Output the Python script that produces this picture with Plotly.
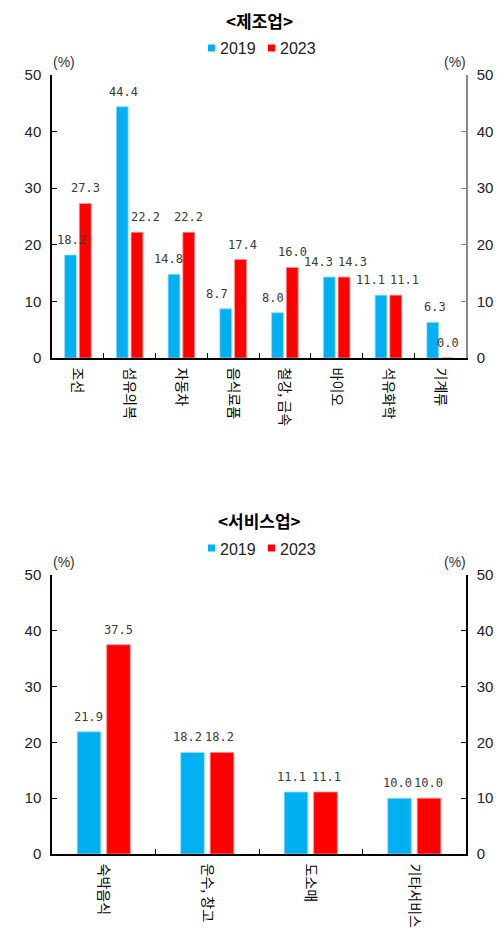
import plotly.graph_objects as go

# Manufacturing sector
mfg_categories = ["조선", "섬유의복", "자동차", "음식료품", "철강, 금속", "바이오", "석유화학", "기계류"]
mfg_2019 = [18.2, 44.4, 14.8, 8.7, 8.0, 14.3, 11.1, 6.3]
mfg_2023 = [27.3, 22.2, 22.2, 17.4, 16.0, 14.3, 11.1, 0.0]

# Service sector
svc_categories = ["숙박음식", "운수, 창고", "도소매", "기타서비스"]
svc_2019 = [21.9, 18.2, 11.1, 10.0]
svc_2023 = [37.5, 18.2, 11.1, 10.0]

series_names = ["2019", "2023"]
y_ticks = [0, 10, 20, 30, 40, 50]

# horizontal nudges (px) that keep neighbouring value labels apart
mfg_nudge = [[1, 1, -6, -9, -5, -11, -11, 2], [0, 8, 0, 2, 0, 8, 9, 0]]
svc_nudge = [[-1, -5, -5, -2], [0, -2, 1, 0]]

C2019 = "#00B0F0"
C2023 = "#FF0000"
COLORS = [C2019, C2023]
KR = "Noto Sans CJK KR"
NUM = "Liberation Sans"
LBL = "DejaVu Sans Mono"

W, H = 504, 933
BARGAP = 0.43
BARGROUPGAP = 0.2


def py(px):
    return 1 - px / H


def px_x(px):
    return px / W


X0, X1 = 52, 466
xdom = [px_x(X0), px_x(X1)]
top_dom = [py(358), py(75)]
bot_dom = [py(854), py(575)]

fig = go.Figure()
annotations = []
shapes = []

groups = [
    ("x", "y", mfg_categories, mfg_2019, mfg_2023, mfg_nudge),
    ("x2", "y3", svc_categories, svc_2019, svc_2023, svc_nudge),
]
for xa, ya, cats, v19, v23, nudges in groups:
    # half of one bar slot in pixels: where each series sits within its category
    slot_half = (X1 - X0) / len(cats) * (1 - BARGAP) / 4
    for k, (name, vals, edge) in enumerate([
        (series_names[0], v19, "rgba(150,220,248,1)"),
        (series_names[1], v23, "rgba(255,140,140,1)"),
    ]):
        fig.add_trace(go.Bar(
            x=cats, y=vals, name=name, xaxis=xa, yaxis=ya, showlegend=False,
            marker=dict(color=COLORS[k], line=dict(color=edge, width=0.8)),
            hovertemplate="%{x}<br>" + name + ": %{y:.1f}%<extra></extra>",
        ))
        # value labels sit above each bar, on top of all bars
        shift = -slot_half if k == 0 else slot_half
        for c, v, n in zip(cats, vals, nudges[k]):
            annotations.append(dict(
                x=c, y=v, xref=xa, yref=ya, text=f"{v:.1f}",
                showarrow=False, xanchor="center", yanchor="bottom",
                xshift=shift + n, yshift=6,
                font=dict(family=LBL, size=12, color="#3a3a3a"),
            ))

# invisible markers to activate the right-hand axes
fig.add_trace(go.Scatter(x=[mfg_categories[0]], y=[0], xaxis="x", yaxis="y2",
                         mode="markers", marker=dict(opacity=0), showlegend=False,
                         hoverinfo="skip"))
fig.add_trace(go.Scatter(x=[svc_categories[0]], y=[0], xaxis="x2", yaxis="y4",
                         mode="markers", marker=dict(opacity=0), showlegend=False,
                         hoverinfo="skip"))

xcommon = dict(
    domain=xdom, showline=True, linecolor="black", linewidth=1.5,
    ticks="inside", tickson="boundaries", ticklen=5, tickcolor="black",
    tickangle=90, tickfont=dict(family=KR, size=14, color="black"),
    ticklabelstandoff=5,
    showgrid=False, zeroline=False, fixedrange=True,
)
ycommon = dict(
    range=[0, 50], tickvals=y_ticks, showline=True, linewidth=1.5,
    ticks="inside", ticklen=5, showgrid=False, zeroline=False,
    tickfont=dict(family=NUM, size=15, color="#222222"),
    ticklabelstandoff=6, fixedrange=True,
)

fig.update_layout(
    width=W, height=H,
    margin=dict(l=0, r=0, t=0, b=0, autoexpand=False),
    paper_bgcolor="white", plot_bgcolor="white",
    barmode="group", bargap=BARGAP, bargroupgap=BARGROUPGAP,
    showlegend=False,
    xaxis=dict(**xcommon, anchor="y"),
    yaxis=dict(**ycommon, domain=top_dom, anchor="x", linecolor="black",
               tickcolor="black"),
    yaxis2=dict(**ycommon, overlaying="y", side="right", anchor="x",
                linecolor="#888888", tickcolor="#888888"),
    xaxis2=dict(**xcommon, anchor="y3"),
    yaxis3=dict(**ycommon, domain=bot_dom, anchor="x2", linecolor="black",
                tickcolor="black"),
    yaxis4=dict(**ycommon, overlaying="y3", side="right", anchor="x2",
                linecolor="black", tickcolor="black"),
)

# key: a small coloured square followed by the series name
KEY_X = [208, 268]
for title, ty, ly, uy in [("<제조업>", 20, 48, 62), ("<서비스업>", 520, 548, 562)]:
    annotations.append(dict(text=f"<b>{title}</b>", x=0.514, y=py(ty),
                            xref="paper", yref="paper", showarrow=False,
                            xanchor="center", yanchor="middle",
                            font=dict(family=KR, size=17, color="black")))
    for name, color, kx in zip(series_names, COLORS, KEY_X):
        shapes.append(dict(type="rect", xref="paper", yref="paper",
                           x0=px_x(kx), x1=px_x(kx + 7),
                           y0=py(ly + 3.5), y1=py(ly - 3.5),
                           fillcolor=color, line=dict(width=0)))
        annotations.append(dict(text=name, x=px_x(kx + 10), y=py(ly + 1),
                                xref="paper", yref="paper", showarrow=False,
                                xanchor="left", yanchor="middle",
                                font=dict(family=NUM, size=16, color="#222222")))
    annotations.append(dict(text="(%)", x=px_x(64), y=py(uy), xref="paper",
                            yref="paper", showarrow=False, xanchor="center",
                            yanchor="middle",
                            font=dict(family=NUM, size=14, color="#333333")))
    annotations.append(dict(text="(%)", x=px_x(455), y=py(uy), xref="paper",
                            yref="paper", showarrow=False, xanchor="center",
                            yanchor="middle",
                            font=dict(family=NUM, size=14, color="#333333")))
fig.update_layout(annotations=annotations, shapes=shapes)

fig.write_html("out.html")
